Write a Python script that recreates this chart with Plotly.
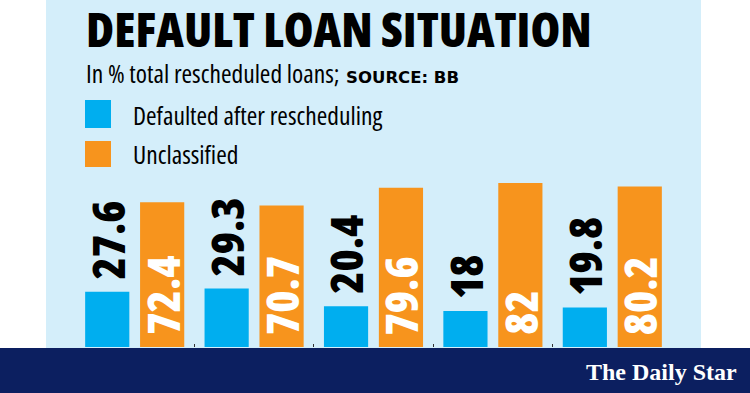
import plotly.graph_objects as go

# ---- data ----
categories = ["2015", "2016", "2017", "2018", "2019"]
series_names = ["Defaulted after rescheduling", "Unclassified"]
defaulted = [27.6, 29.3, 20.4, 18, 19.8]
unclassified = [72.4, 70.7, 79.6, 82, 80.2]
value_labels_def = ["27.6", "29.3", "20.4", "18", "19.8"]
value_labels_unc = ["72.4", "70.7", "79.6", "82", "80.2"]

BLUE = "#00aeef"
ORANGE = "#f7941d"
PANEL = "#d4eefa"
NAVY = "#0c1f60"
COND = "Open Sans"

W, H = 750, 393
ML, MR, MT, MB = 75, 78, 147, 46
PW = W - ML - MR
PH = H - MT - MB


def px_x(x):
    return (x - ML) / PW


def px_y(y):
    return (H - MB - y) / PH


def cond(text, weight=400):
    return (f"<span style='font-family:{COND};font-stretch:75%;"
            f"font-weight:{weight}'>{text}</span>")


BW = 0.37
fig = go.Figure()
fig.add_trace(go.Bar(x=categories, y=defaulted, name=series_names[0],
                     marker=dict(color=BLUE, line=dict(width=0)),
                     width=BW, offset=-0.415, showlegend=False, hoverinfo="skip"))
fig.add_trace(go.Bar(x=categories, y=unclassified, name=series_names[1],
                     marker=dict(color=ORANGE, line=dict(width=0)),
                     width=BW, offset=0.045, showlegend=False, hoverinfo="skip"))

ann = []
for i, (v, t) in enumerate(zip(defaulted, value_labels_def)):
    ann.append(dict(x=i - 0.23, y=v, xref="x", yref="y", text=cond(t, 800), showarrow=False,
                    textangle=-90, xanchor="center", yanchor="bottom", yshift=10, xshift=0,
                    font=dict(family=COND, size=45, color="black")))
for i, (v, t) in enumerate(zip(unclassified, value_labels_unc)):
    ann.append(dict(x=i + 0.23, y=0, xref="x", yref="y", text=cond(t, 800), showarrow=False,
                    textangle=-90, xanchor="center", yanchor="bottom", yshift=10, xshift=0,
                    font=dict(family=COND, size=45, color="white")))

# title / subtitle
ann.append(dict(x=px_x(84), y=px_y(28), xref="paper", yref="paper", xanchor="left",
                yanchor="middle", showarrow=False, text=cond("DEFAULT LOAN SITUATION", 800),
                font=dict(family=COND, size=48, color="black")))
ann.append(dict(x=px_x(84), y=px_y(73), xref="paper", yref="paper", xanchor="left",
                yanchor="middle", showarrow=False,
                text=cond("In % total rescheduled loans;") +
                     " <span style='font-family:DejaVu Sans;font-size:16.5px;"
                     "font-weight:bold'>SOURCE: BB</span>",
                font=dict(family=COND, size=25.5, color="black")))
# legend
ann.append(dict(x=px_x(131), y=px_y(115), xref="paper", yref="paper", xanchor="left",
                yanchor="middle", showarrow=False, text=cond(series_names[0]),
                font=dict(family=COND, size=25.5, color="black")))
ann.append(dict(x=px_x(131), y=px_y(154), xref="paper", yref="paper", xanchor="left",
                yanchor="middle", showarrow=False, text=cond(series_names[1]),
                font=dict(family=COND, size=25.5, color="black")))
# logo
ann.append(dict(x=px_x(739), y=px_y(372), xref="paper", yref="paper", xanchor="right",
                yanchor="middle", showarrow=False, text="The Daily Star",
                font=dict(family="Liberation Serif, DejaVu Serif, serif", size=24,
                          color="white", weight="bold")))

shapes = [
    dict(type="rect", xref="paper", yref="paper", x0=px_x(46), x1=px_x(701),
         y0=px_y(348), y1=px_y(0), fillcolor=PANEL, line=dict(width=0), layer="below"),
    dict(type="rect", xref="paper", yref="paper", x0=px_x(85), x1=px_x(111),
         y0=px_y(128), y1=px_y(100), fillcolor=BLUE, line=dict(width=0), layer="below"),
    dict(type="rect", xref="paper", yref="paper", x0=px_x(85), x1=px_x(111),
         y0=px_y(167), y1=px_y(141), fillcolor=ORANGE, line=dict(width=0), layer="below"),
    dict(type="rect", xref="paper", yref="paper", x0=px_x(0), x1=px_x(750),
         y0=px_y(393), y1=px_y(348), fillcolor=NAVY, line=dict(width=0), layer="above"),
]

fig.update_layout(
    width=W, height=H, margin=dict(l=ML, r=MR, t=MT, b=MB, pad=0),
    paper_bgcolor="white", plot_bgcolor="rgba(0,0,0,0)",
    barmode="group", annotations=ann, shapes=shapes,
    xaxis=dict(type="category", range=[-0.5, 4.5], showgrid=False, zeroline=False,
               showline=False, showticklabels=False, ticks="inside", ticklen=3,
               tickcolor="#333", tickwidth=1, tickvals=[0.5, 1.5, 2.5, 3.5]),
    yaxis=dict(range=[0, 100], visible=False, fixedrange=True),
)
fig.write_html("out.html", config={"displayModeBar": False},
               post_script="document.body.style.margin='0';")
